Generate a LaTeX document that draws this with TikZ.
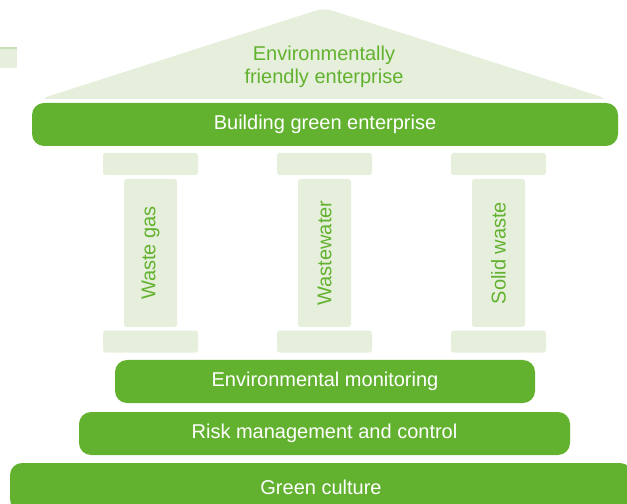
\documentclass[tikz,border=0pt]{standalone}
\usepackage{fontspec}
\setmainfont{Liberation Sans}
\usepackage{tikz}
\usetikzlibrary{positioning}
\usepackage{xcolor}
\definecolor{gbgreen}{RGB}{98,178,47}
\definecolor{gblight}{RGB}{230,239,220}
\definecolor{gbedge}{RGB}{200,222,180}
\tikzstyle{bar} = [rectangle, rounded corners=9pt, minimum height=32.25pt, text centered, fill=gbgreen, text=white, font=\fontsize{15}{18}\selectfont]
\tikzstyle{capital} = [rectangle, rounded corners=2pt, minimum width=71.25pt, minimum height=16.5pt, fill=gblight]
\tikzstyle{shaft} = [rectangle, rounded corners=2pt, minimum width=39.75pt, minimum height=111pt, fill=gblight, text=gbgreen, font=\fontsize{15}{18}\selectfont]

\begin{document}
\begin{tikzpicture}[x=0.75pt, y=0.75pt]
\useasboundingbox (0,0) rectangle (627,503);
\clip (0,0) rectangle (627,503);

% Cut-off tab on the left
\fill[gblight] (0,435) rectangle (17,455);
\draw[gbedge, line width=0.8pt] (0,455) -- (17,455);

% Roof
\fill[gblight, rounded corners=6pt] (40,404) -- (324,495) -- (608,404) -- cycle;
\node (roof) [align=center, text=gbgreen, font=\fontsize{15}{17.25}\selectfont] at (324,436.5) {Environmentally\\friendly enterprise};

% Beam
\node (beam) [bar, minimum width=439.5pt] at (325,378.5) {Building green enterprise};

% Columns
\node (gas) [shaft] at (150.5,250) {\rotatebox{90}{Waste gas}};
\node (water) [shaft, right of=gas, node distance=130.5pt] {\rotatebox{90}{Wastewater}};
\node (solid) [shaft, right of=water, node distance=130.5pt] {\rotatebox{90}{Solid waste}};
\node (gastop) [capital, above of=gas, node distance=66.75pt] {};
\node (gasbase) [capital, below of=gas, node distance=66.4pt] {};
\node (watertop) [capital, above of=water, node distance=66.75pt] {};
\node (waterbase) [capital, below of=water, node distance=66.4pt] {};
\node (solidtop) [capital, above of=solid, node distance=66.75pt] {};
\node (solidbase) [capital, below of=solid, node distance=66.4pt] {};

% Foundation
\node (monitor) [bar, minimum width=315pt] at (325,121.5) {Environmental monitoring};
\node (risk) [bar, minimum width=368.25pt] at (324.5,69.5) {Risk management and control};
\node (culture) [bar, minimum width=466.5pt, minimum height=36pt] at (321,16) {Green culture};
\end{tikzpicture}
\end{document}
